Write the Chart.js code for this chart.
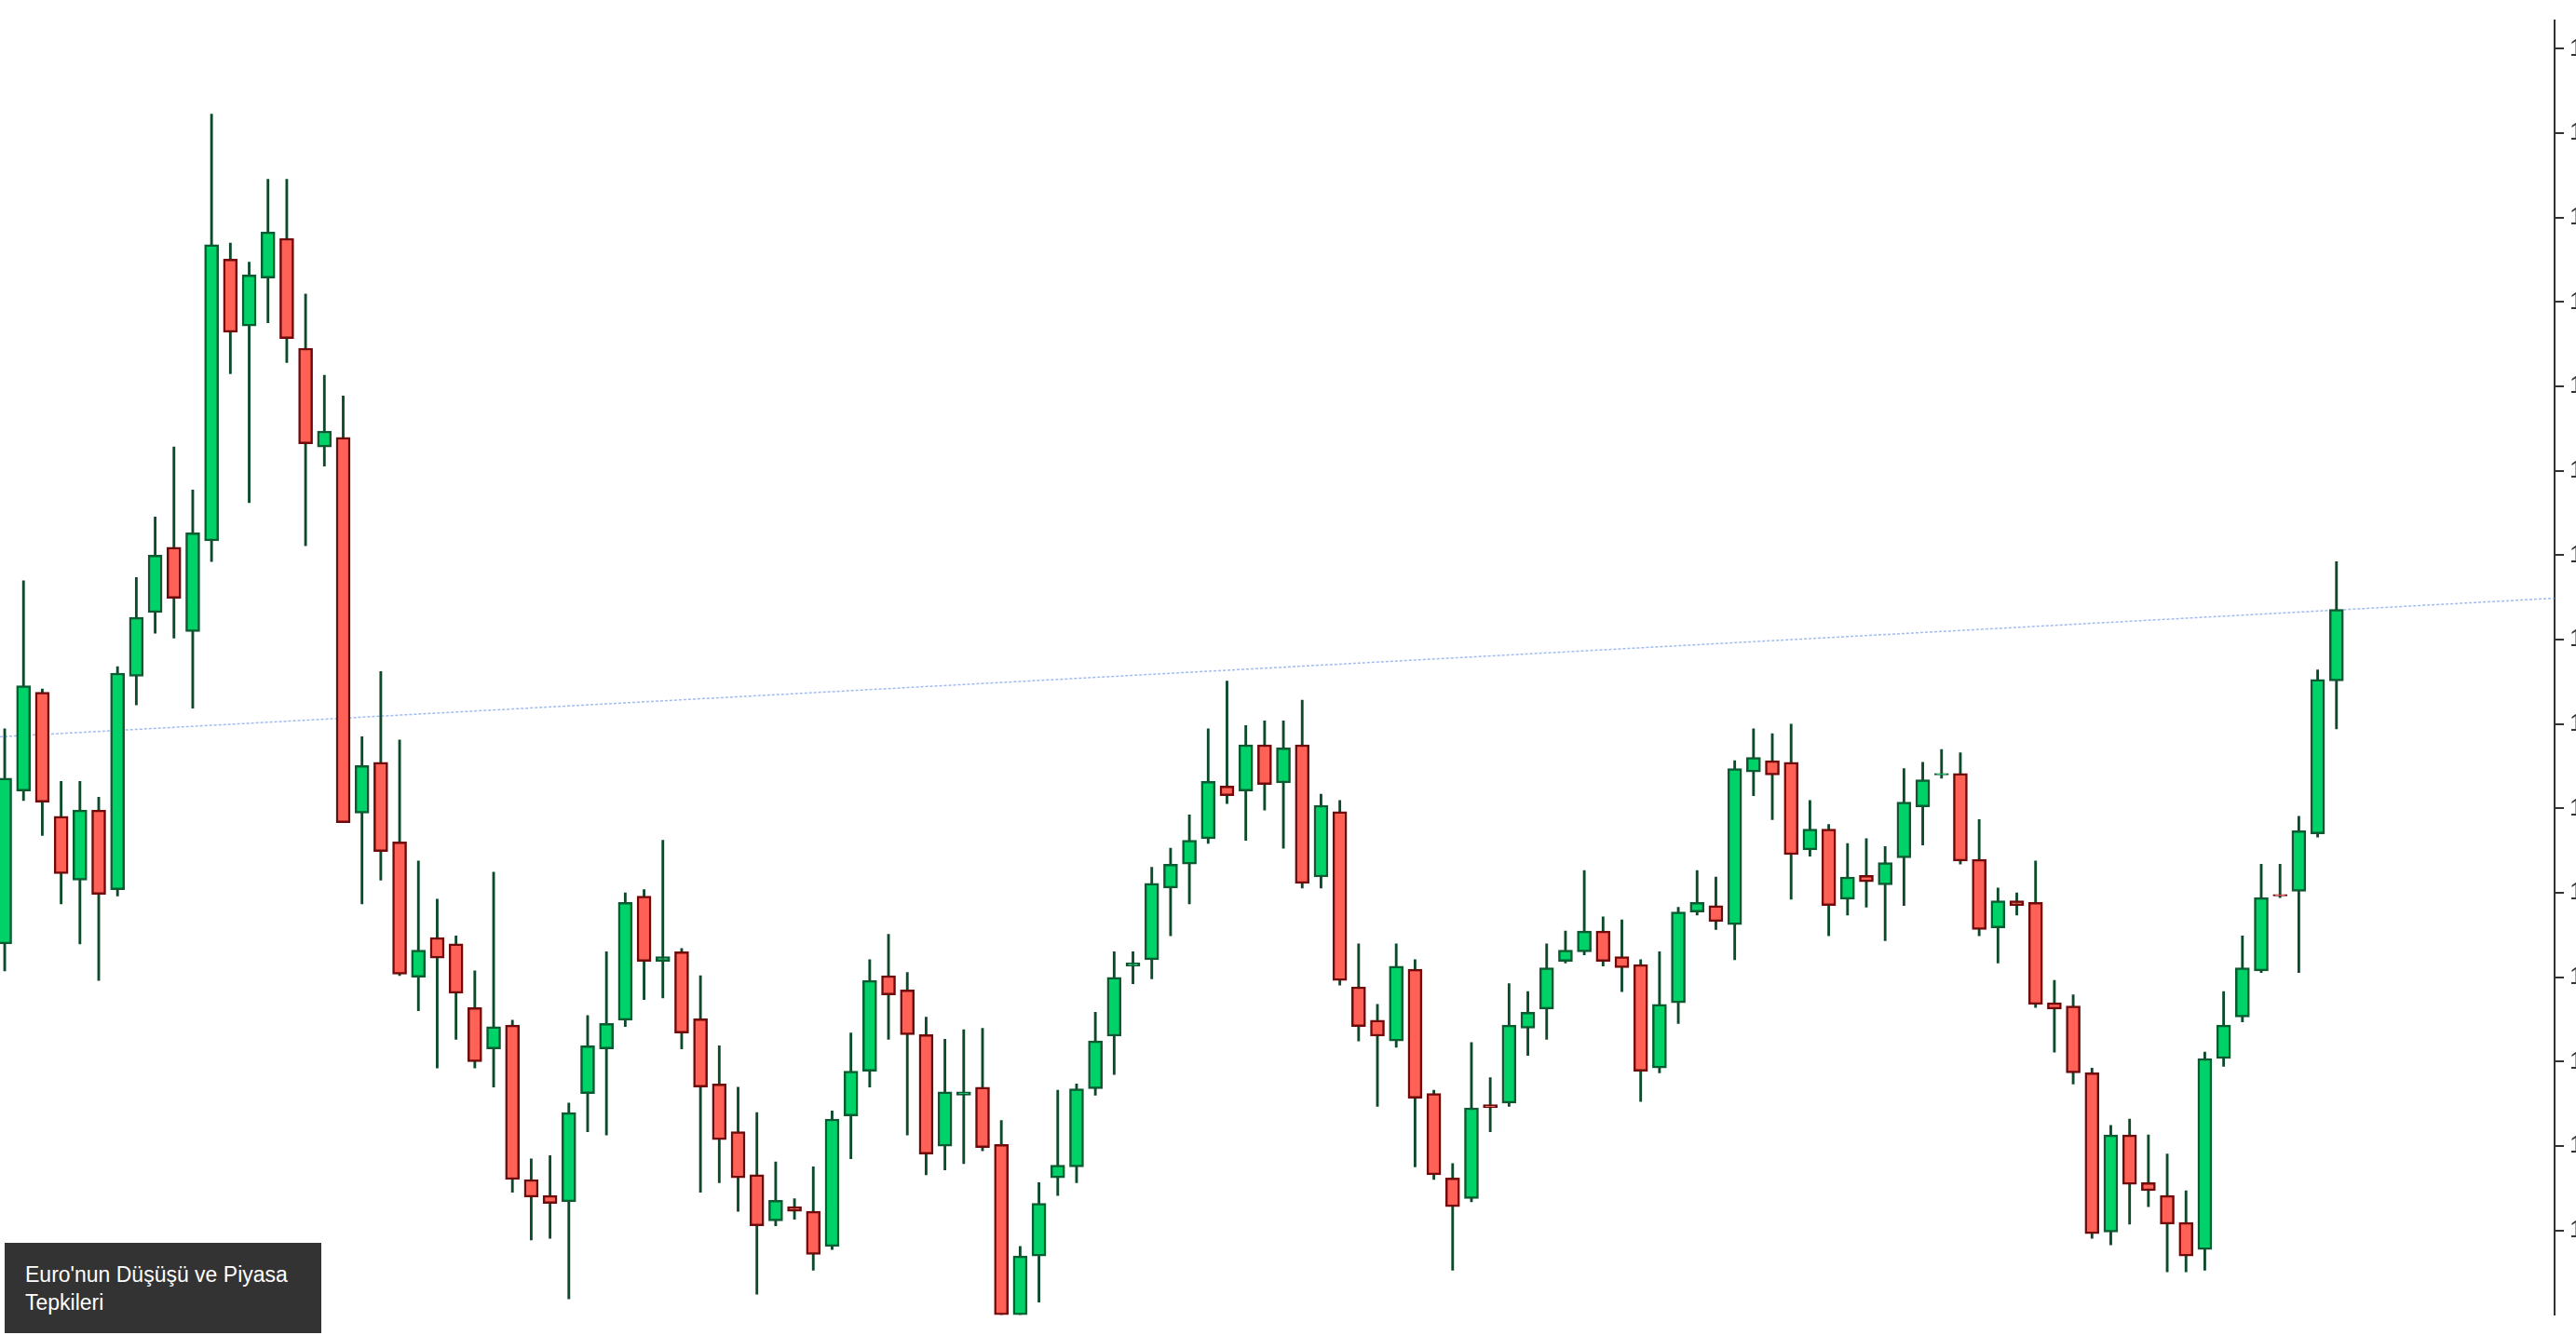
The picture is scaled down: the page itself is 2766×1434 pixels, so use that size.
<!DOCTYPE html>
<html><head><meta charset="utf-8">
<script src="https://cdn.jsdelivr.net/npm/chart.js@4"></script>
<style>
html,body{margin:0;padding:0;background:#fff;overflow:hidden;width:2766px;height:1434px}
#wrap{position:absolute;left:0;top:0;width:2823px;height:1434px}
#title{position:absolute;left:5px;top:1335px;width:306px;height:59px;padding:19px 12px 19px 22px;background:#333;color:#fff;font:23px "Liberation Sans",Arial,sans-serif;line-height:30px}
</style></head><body>
<div id="wrap"><canvas id="c" width="2823" height="1434"></canvas></div>
<div id="title">Euro'nun Düşüşü ve Piyasa Tepkileri</div>
<script>
const open=[1320,1416,1478,1400,1360,1404,1354,1488,1528,1569,1516,1573,1750,1708,1738,1763,1694,1632,1638,1402,1434,1384,1299,1324,1320,1280,1254,1269,1172,1162,1158,1226,1254,1272,1350,1309,1315,1273,1232,1202,1175,1146,1155,1152,1130,1212,1240,1300,1291,1263,1193,1225,1230,1194,1087,1124,1173,1180,1229,1262,1306,1310,1355,1370,1386,1419,1416,1445,1421,1445,1362,1403,1293,1272,1259,1304,1226,1173,1160,1219,1220,1267,1279,1309,1315,1328,1312,1307,1242,1283,1340,1344,1332,1428,1435,1434,1379,1392,1348,1363,1357,1374,1406,1426,1427,1373,1330,1347,1346,1283,1281,1239,1139,1200,1170,1162,1145,1128,1248,1274,1303,1351,1353,1389,1485];
const close=[1424,1482,1409,1364,1404,1351,1490,1525,1564,1537,1578,1759,1704,1740,1767,1700,1634,1642,1396,1432,1378,1301,1316,1311,1289,1246,1268,1172,1161,1157,1214,1256,1270,1346,1309,1312,1264,1230,1197,1173,1143,1159,1152,1125,1210,1240,1297,1288,1263,1188,1227,1227,1192,1087,1124,1157,1181,1229,1259,1299,1308,1358,1370,1385,1422,1413,1445,1420,1443,1358,1407,1297,1268,1262,1306,1223,1175,1155,1217,1217,1269,1277,1305,1316,1328,1309,1305,1240,1282,1340,1346,1334,1430,1437,1426,1376,1392,1344,1362,1359,1371,1409,1423,1427,1372,1329,1347,1344,1282,1279,1239,1138,1200,1169,1165,1144,1124,1248,1269,1305,1349,1350,1391,1486,1530];
const high=[1455,1548,1480,1422,1422,1412,1494,1550,1588,1632,1605,1841,1760,1748,1800,1800,1728,1677,1664,1450,1491,1448,1372,1348,1325,1303,1365,1272,1185,1187,1220,1275,1315,1352,1354,1385,1317,1300,1256,1230,1214,1183,1160,1180,1215,1264,1310,1326,1302,1274,1260,1266,1267,1209,1130,1170,1228,1232,1277,1315,1315,1368,1380,1401,1455,1485,1457,1460,1460,1473,1414,1410,1320,1282,1320,1310,1228,1182,1258,1236,1295,1290,1320,1328,1366,1337,1335,1310,1315,1343,1366,1362,1435,1455,1452,1458,1410,1395,1383,1386,1381,1430,1434,1442,1440,1398,1355,1352,1372,1297,1288,1242,1206,1210,1200,1188,1165,1252,1290,1325,1370,1370,1400,1492,1560];
const low=[1303,1410,1388,1345,1320,1297,1350,1470,1515,1512,1468,1560,1678,1597,1710,1685,1570,1620,1396,1345,1360,1300,1278,1242,1260,1242,1230,1164,1134,1135,1097,1202,1200,1268,1285,1286,1254,1164,1170,1152,1100,1143,1147,1115,1128,1185,1230,1260,1200,1175,1178,1182,1190,1087,1087,1095,1162,1170,1225,1238,1295,1298,1325,1345,1383,1408,1385,1404,1380,1355,1355,1294,1259,1218,1255,1180,1172,1115,1158,1202,1218,1250,1260,1308,1313,1306,1290,1221,1239,1270,1338,1329,1310,1413,1398,1348,1375,1325,1338,1343,1322,1344,1382,1424,1370,1325,1308,1338,1280,1252,1232,1135,1131,1144,1155,1114,1114,1115,1243,1271,1302,1349,1302,1387,1455];
const yTicks=[1882,1829,1776,1723,1670,1617,1564,1511,1458,1405,1352,1299,1246,1193,1140];
const trendLine=[[-0.25,1450],[135.6,1537]];

const idx=open.map((_,i)=>i);
const up=i=>close[i]>=open[i];
const bodies=idx.map(i=>({x:i,y:[open[i],close[i]]}));
const wicks=idx.map(i=>({x:i,y:[low[i],high[i]]}));

new Chart(document.getElementById('c'),{
  type:'bar',
  data:{datasets:[
    {type:'line',data:trendLine.map(p=>({x:p[0],y:p[1]})),borderColor:'rgba(120,160,235,0.7)',borderWidth:1.5,borderDash:[3,2],pointRadius:0,order:2},
    {data:wicks,backgroundColor:'#0c4a2a',barThickness:2.2,grouped:false,order:1},
    {data:bodies,grouped:false,barThickness:15,order:0,borderSkipped:false,borderWidth:2.5,
      backgroundColor:c=>up(c.dataIndex)?'#00d26a':'#ff6157',
      borderColor:c=>up(c.dataIndex)?'#0b5a30':'#6e0a0a'}
  ]},
  options:{responsive:false,animation:false,
    layout:{padding:0},
    plugins:{legend:{display:false},tooltip:{enabled:false}},
    scales:{
      x:{type:'linear',min:-0.25,max:135.6,display:false,offset:false},
      y:{position:'right',min:1087,max:1900,
        afterBuildTicks:s=>{s.ticks=yTicks.map(v=>({value:v}));},
        afterFit:s=>{s.width=80;},
        grid:{drawOnChartArea:false,drawTicks:true,tickLength:10,color:'#333',lineWidth:2},
        border:{color:'#333',width:2},
        ticks:{color:'#333',padding:6,font:{size:26,family:'Liberation Sans'}}}
    }
  }
});
</script></body></html>
